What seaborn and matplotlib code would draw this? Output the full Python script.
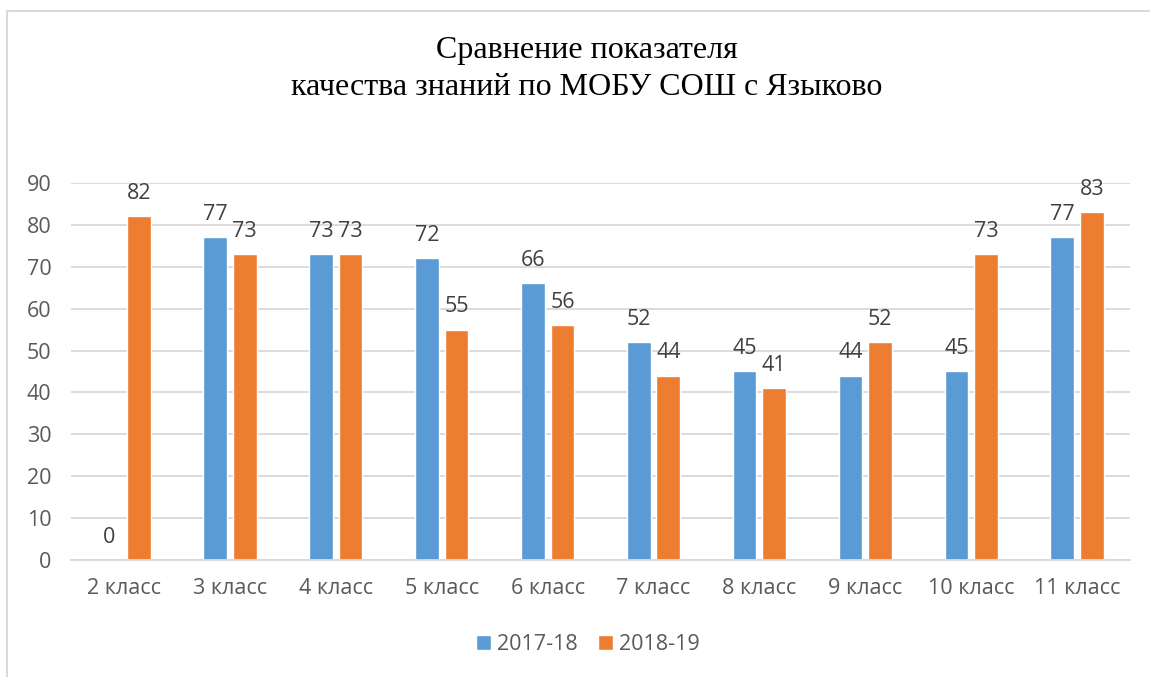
import pandas as pd
import seaborn as sns
import matplotlib.pyplot as plt
from matplotlib.patches import Rectangle

# данные
classes = ["2 класс", "3 класс", "4 класс", "5 класс", "6 класс",
           "7 класс", "8 класс", "9 класс", "10 класс", "11 класс"]
y2017 = [0, 77, 73, 72, 66, 52, 45, 44, 45, 77]
y2018 = [82, 73, 73, 55, 56, 44, 41, 52, 73, 83]
series = ["2017-18", "2018-19"]
colors = ["#5B9BD5", "#ED7D31"]


def main():
    sns.set_theme(style="white")
    plt.rcParams["font.family"] = ["Open Sans", "DejaVu Sans"]

    df = pd.DataFrame({"класс": classes * 2,
                       "значение": y2017 + y2018,
                       "год": [series[0]] * len(classes) + [series[1]] * len(classes)})

    fig = plt.figure(figsize=(11.5, 6.77), dpi=100)
    ax = fig.add_axes([0.0617, 0.1728, 0.921, 0.557])

    sns.barplot(data=df, x="класс", y="значение", hue="год", palette=colors,
                width=0.56, gap=0.2, ax=ax, saturation=1, legend=True)

    for c in ax.containers:
        ax.bar_label(c, padding=9, fontsize=15.5, color="#404040")

    ax.set_ylim(0, 90)
    ax.set_yticks(range(0, 91, 10))
    ax.set_xlim(-0.5, len(classes) - 0.5)
    ax.grid(axis="y", color="#D9D9D9", lw=1.3)
    ax.set_axisbelow(True)
    for s in ["top", "right", "left"]:
        ax.spines[s].set_visible(False)
    ax.spines["bottom"].set_color("#D9D9D9")
    ax.spines["bottom"].set_linewidth(1.3)
    ax.tick_params(axis="both", length=0, labelsize=15.5, colors="#595959")
    ax.tick_params(axis="x", pad=13)
    ax.tick_params(axis="y", pad=14)
    ax.set_xlabel("")
    ax.set_ylabel("")

    leg = ax.legend(loc="upper center", bbox_to_anchor=(0.488, -0.145), ncol=2,
                    frameon=False, fontsize=15.5, handlelength=0.7, handleheight=0.7,
                    handletextpad=0.3, columnspacing=0.9)
    for t in leg.get_texts():
        t.set_color("#595959")

    fig.text(0.51, 0.898, "Сравнение показателя\nкачества знаний по МОБУ СОШ с Языково",
             ha="center", va="center", fontsize=23, family="Liberation Serif",
             linespacing=1.4, color="black")

    # рамка диаграммы
    fig.patches.append(Rectangle((7 / 1150, -0.1), 1.2, 1 - 11 / 677 + 0.1,
                                 transform=fig.transFigure, fill=False,
                                 edgecolor="#D9D9D9", lw=1.5))

    fig.savefig("out.png", dpi=100)


if __name__ == "__main__":
    main()
